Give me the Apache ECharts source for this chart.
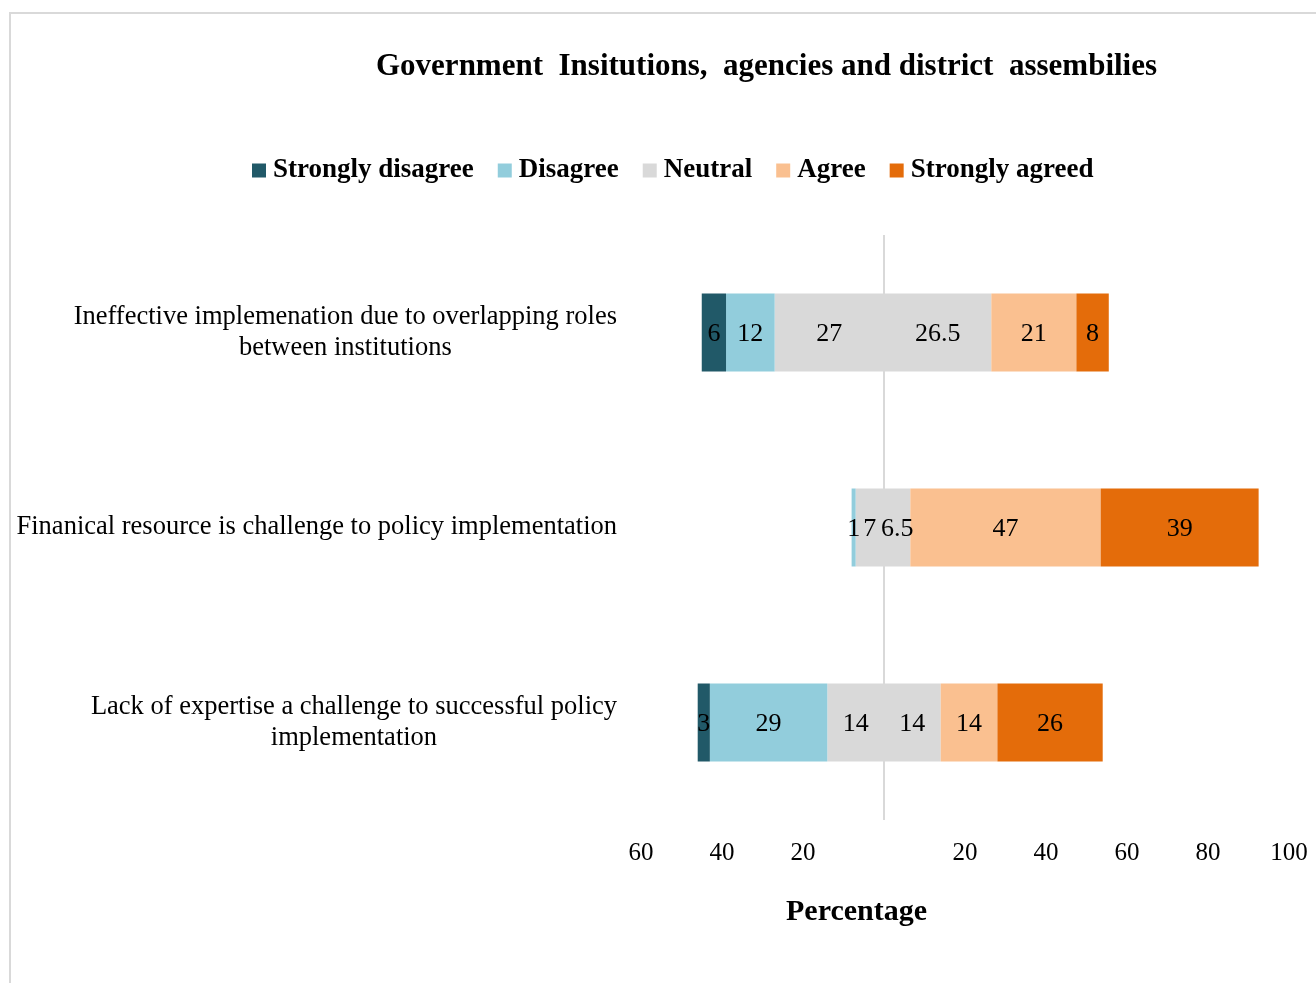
<!DOCTYPE html>
<html>
<head>
<meta charset="utf-8">
<script src="https://cdn.jsdelivr.net/npm/echarts@6/dist/echarts.min.js"></script>
<style>
  html, body { margin: 0; padding: 0; background: #fff; }
  #frame { position: absolute; left: 9px; top: 12px; width: 1320px; height: 990px;
           border-left: 2px solid #d9d9d9; border-top: 2px solid #d9d9d9; box-sizing: border-box; }
  #chart { position: absolute; left: 0; top: 0; width: 1316px; height: 983px; }
</style>
</head>
<body>
<div id="frame"></div>
<div id="chart"></div>
<script>
// Survey statements (top to bottom) and percentage of responses per answer
const categories = [
  'Ineffective implemenation due to overlapping roles\nbetween institutions',
  'Finanical resource is challenge to policy implementation',
  'Lack of expertise a challenge to successful policy\nimplementation'
];
const stronglyDisagree = [6, 0, 3];
const disagree = [12, 1, 29];
const neutralLeft = [27, 7, 14];
const neutralRight = [26.5, 6.5, 14];
const agree = [21, 47, 14];
const stronglyAgreed = [8, 39, 26];
const xTicks = { min: -60, max: 100, step: 20 };

const colors = {
  sd: '#215968', d: '#92cddc', n: '#d9d9d9', a: '#fac090', sa: '#e46c0a'
};
const serif = '"Liberation Serif", "Times New Roman", serif';

// Disagreeing answers and the left half of Neutral extend to the left of zero
const neg = arr => arr.map(v => -v);

function barSeries(name, data, color, extra) {
  return Object.assign({
    name: name,
    type: 'bar',
    stack: 'total',
    barWidth: 78,
    data: data,
    itemStyle: { color: color },
    label: {
      show: true,
      position: 'inside',
      offset: [0, 2],
      color: '#000',
      fontFamily: serif,
      fontSize: 26,
      formatter: p => (p.value === 0 ? '' : String(Math.abs(p.value)))
    },
    emphasis: { disabled: true }
  }, extra || {});
}

const chart = echarts.init(document.getElementById('chart'));
chart.setOption({
  animation: false,
  backgroundColor: 'transparent',
  title: [
    {
      text: 'Government  Insitutions,  agencies and district  assembilies',
      left: 371, top: 46,
      textStyle: { fontFamily: serif, fontWeight: 'bold', fontSize: 31, color: '#000' }
    },
    {
      text: 'Percentage',
      left: 781, top: 892,
      textStyle: { fontFamily: serif, fontWeight: 'bold', fontSize: 30, color: '#000' }
    }
  ],
  legend: {
    data: ['Strongly disagree', 'Disagree', 'Neutral', 'Agree', 'Strongly agreed'],
    left: 247, top: 152,
    icon: 'rect',
    itemWidth: 14, itemHeight: 14, itemGap: 24,
    textStyle: { fontFamily: serif, fontWeight: 'bold', fontSize: 27, color: '#000', padding: [0, 0, 0, 2] }
  },
  grid: { left: 641, right: 27, top: 235, bottom: 163, containLabel: false },
  xAxis: {
    type: 'value',
    min: xTicks.min, max: xTicks.max, interval: xTicks.step,
    axisLine: { show: false }, axisTick: { show: false }, splitLine: { show: false },
    axisLabel: {
      margin: 21,
      fontFamily: serif, fontSize: 25, color: '#000',
      formatter: v => (v === 0 ? '' : String(Math.abs(v)))
    }
  },
  yAxis: {
    type: 'category',
    inverse: true,
    data: categories,
    axisLine: { show: false }, axisTick: { show: false },
    axisLabel: {
      margin: 24,
      formatter: v => v.split('\n').map(l => '{c|' + l + '}').join('\n'),
      rich: {
        c: { align: 'center', fontFamily: serif, fontSize: 26.5, lineHeight: 31, color: '#000' }
      }
    }
  },
  series: [
    barSeries('Neutral', neg(neutralLeft), colors.n, {
      // vertical zero line, kept behind the bars
      markLine: {
        z: 1,
        silent: true, symbol: 'none', label: { show: false },
        lineStyle: { color: '#d9d9d9', width: 2, type: 'solid' },
        emphasis: { disabled: true },
        data: [{ xAxis: 0 }]
      }
    }),
    barSeries('Disagree', neg(disagree), colors.d),
    barSeries('Strongly disagree', neg(stronglyDisagree), colors.sd),
    barSeries('Neutral', neutralRight, colors.n),
    barSeries('Agree', agree, colors.a),
    barSeries('Strongly agreed', stronglyAgreed, colors.sa)
  ]
});
</script>
</body>
</html>
